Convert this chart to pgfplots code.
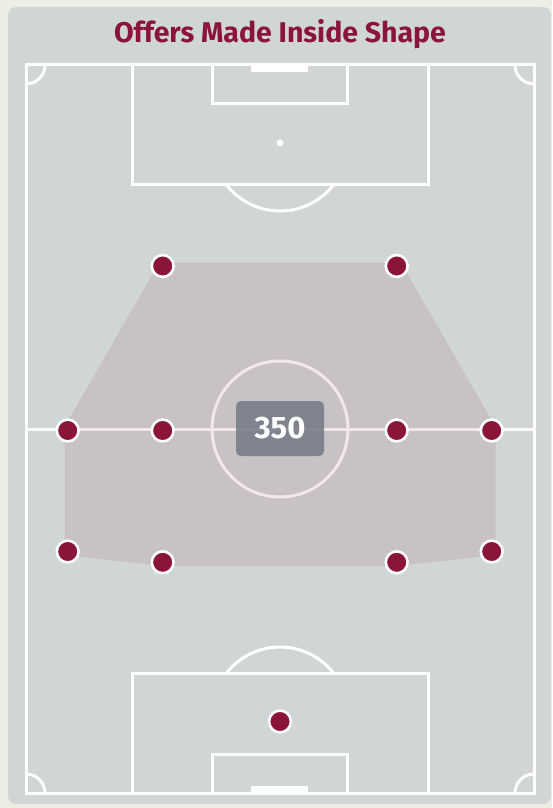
\documentclass[border=0pt]{standalone}
\usepackage{pgfplots}
\pgfplotsset{compat=1.18}
\usepackage{fontspec}
\setmainfont{Fira Sans}
\definecolor{cream}{HTML}{EEEDE3}
\definecolor{pitch}{HTML}{D0D6D6}
\definecolor{maroon}{HTML}{8A1538}
\definecolor{boxc}{RGB}{112,119,131}
\begin{document}
\begin{tikzpicture}
\begin{axis}[
  scale only axis, width=552pt, height=808pt,
  xmin=0, xmax=552, ymin=0, ymax=808, y dir=reverse,
  hide axis, clip=true,
]
% backgrounds
\fill[cream] (axis cs:0,0) rectangle (axis cs:552,808);
\fill[pitch, rounded corners=8pt] (axis cs:8,7) rectangle (axis cs:551,804);
% pitch lines
\begin{scope}[draw=white, line width=3pt]
\draw (axis cs:26,65) rectangle (axis cs:534,793);
\draw (axis cs:26,429) -- (axis cs:534,429);
\draw (axis cs:280,429) circle[radius=68pt];
% top
\draw (axis cs:132,65) rectangle (axis cs:428,184);
\draw (axis cs:212,65) rectangle (axis cs:347,103);
\draw (axis cs:280,143) ++(216:68pt) arc[start angle=216, end angle=324, radius=68pt];
% bottom
\draw (axis cs:132,673) rectangle (axis cs:428,793);
\draw (axis cs:212,754) rectangle (axis cs:347,793);
\draw (axis cs:280,715) ++(38:68pt) arc[start angle=38, end angle=142, radius=68pt];
% corners
\draw (axis cs:26,65) ++(0:19pt) arc[start angle=0, end angle=-90, radius=19pt];
\draw (axis cs:534,65) ++(180:19pt) arc[start angle=180, end angle=270, radius=19pt];
\draw (axis cs:26,793) ++(0:19pt) arc[start angle=0, end angle=90, radius=19pt];
\draw (axis cs:534,793) ++(180:19pt) arc[start angle=180, end angle=90, radius=19pt];
\end{scope}
\fill[white] (axis cs:251,65) rectangle (axis cs:308,72);
\fill[white] (axis cs:251,786) rectangle (axis cs:308,793);
\fill[white] (axis cs:280,143) circle[radius=3.5pt];
% shape
\addplot[fill=maroon, fill opacity=0.1, draw=none] coordinates {
  (159,262.5) (401,262.5) (495.5,427) (495.5,555) (397,566) (163,566) (64.5,555) (64.5,427) (159,262.5)
};
% label
\node[fill=boxc, fill opacity=0.83, text opacity=1, rounded corners=5pt,
  minimum width=88pt, minimum height=55pt, inner sep=0pt, text=white,
  font=\fontsize{31}{31}\selectfont\bfseries] at (axis cs:280,428.5) {350};
% points
\addplot[only marks, mark=*, mark size=10.9pt,
  mark options={fill=maroon, draw=white, line width=2.6pt}] coordinates {
  (162.7,266) (396.7,266)
  (67.7,430.5) (162.7,430.5) (396.7,430.5) (491.7,430.5)
  (67.7,551.5) (162.7,562.3) (396.7,562.3) (491.7,551.5)
  (280,721.5)
};
% title
\node[text=maroon, font=\fontsize{28.5}{28.5}\selectfont\bfseries, anchor=base]
  at (axis cs:280,43) {Offers Made Inside Shape};
\end{axis}
\end{tikzpicture}
\end{document}
